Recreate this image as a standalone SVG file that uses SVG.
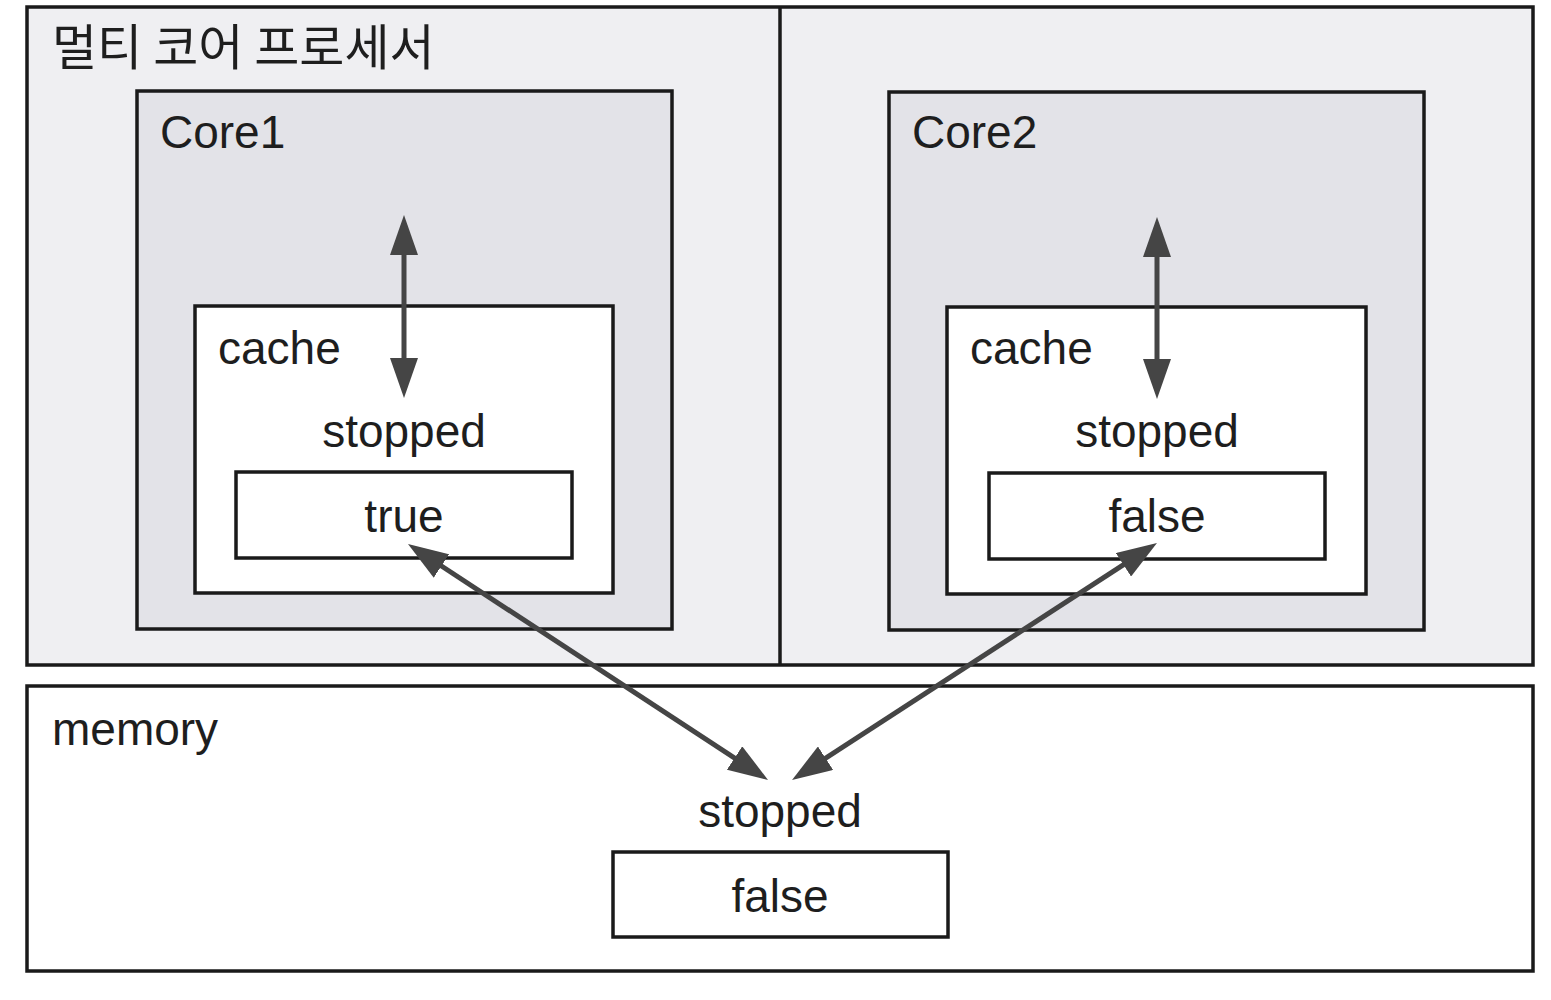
<svg xmlns="http://www.w3.org/2000/svg" width="1551" height="1000" viewBox="0 0 1551 1000">
<defs>
<marker id="ah" viewBox="0 0 40 28" refX="20" refY="14" markerWidth="40" markerHeight="28" markerUnits="userSpaceOnUse" orient="auto-start-reverse">
<path d="M0,0 L40,14 L0,28 Z" fill="#454545"/>
</marker>
</defs>
<style>
.box{stroke:#1a1a1a;stroke-width:3.5}
.proc{fill:#efeff2}
.core{fill:#e3e3e8}
.white{fill:#ffffff}
.t{font-family:"Liberation Sans","Noto Sans CJK KR",sans-serif;font-size:46px;fill:#1e1e1e}
.c{text-anchor:middle}
.k{font-family:"Noto Sans CJK KR",sans-serif;font-size:49px;fill:#1e1e1e}
.arr{stroke:#454545;stroke-width:5;fill:none;marker-start:url(#ah);marker-end:url(#ah)}
</style>
<rect width="1551" height="1000" fill="#ffffff"/>
<g id="processor">
<rect class="box proc" x="27" y="7" width="1506" height="658"/>
<line class="box" x1="780" y1="7" x2="780" y2="665"/>
<text class="k" x="52" y="65">멀티 코어 프로세서</text>
</g>
<g id="core1">
<rect class="box core" x="137" y="91" width="535" height="538"/>
<text class="t" x="160" y="148">Core1</text>
</g>
<g id="cache1">
<rect class="box white" x="195" y="306" width="418" height="287"/>
<text class="t" x="218" y="364">cache</text>
<text class="t c" x="404" y="447">stopped</text>
</g>
<g id="true1">
<rect class="box white" x="236" y="472" width="336" height="86"/>
<text class="t c" x="404" y="532">true</text>
</g>
<g id="core2">
<rect class="box core" x="889" y="92" width="535" height="538"/>
<text class="t" x="912" y="148">Core2</text>
</g>
<g id="cache2">
<rect class="box white" x="947" y="307" width="419" height="287"/>
<text class="t" x="970" y="364">cache</text>
<text class="t c" x="1157" y="447">stopped</text>
</g>
<g id="false2">
<rect class="box white" x="989" y="473" width="336" height="86"/>
<text class="t c" x="1157" y="532">false</text>
</g>
<g id="memory">
<rect class="box white" x="27" y="686" width="1506" height="285"/>
<text class="t" x="52" y="745">memory</text>
<text class="t c" x="780" y="827">stopped</text>
</g>
<g id="memfalse">
<rect class="box white" x="613" y="852" width="335" height="85"/>
<text class="t c" x="780" y="912">false</text>
</g>
<g id="connectors">
<line class="arr" x1="404" y1="235" x2="404" y2="378"/>
<line class="arr" x1="1157" y1="237" x2="1157" y2="379"/>
<line class="arr" x1="424.7" y1="555" x2="751.3" y2="769"/>
<line class="arr" x1="1140.2" y1="553.9" x2="808.8" y2="769.1"/>
</g>
</svg>
